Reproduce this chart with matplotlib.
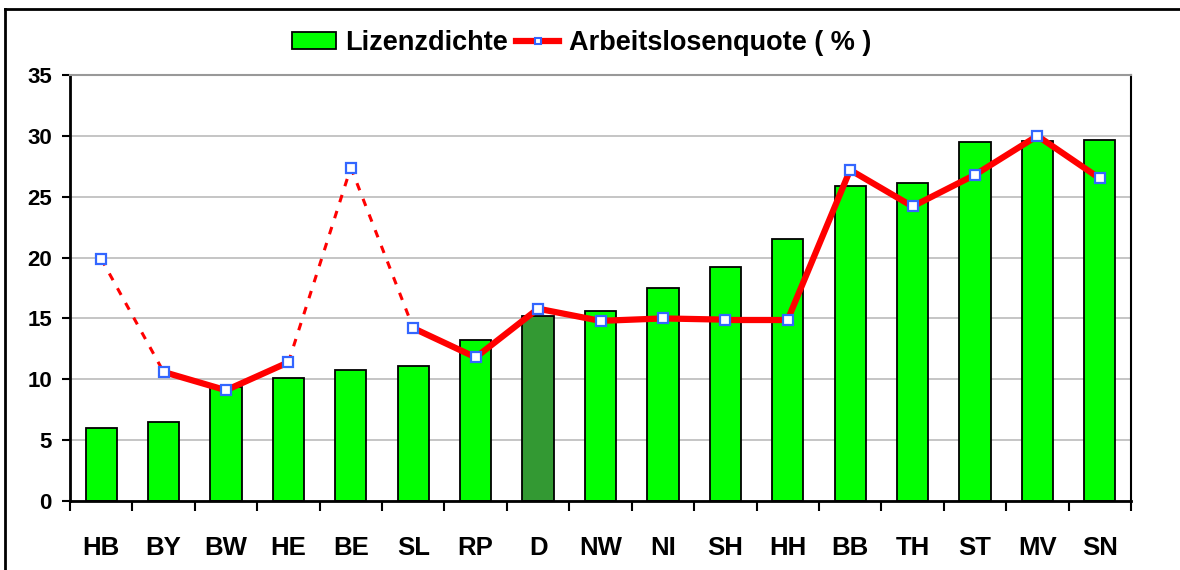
import numpy as np
import matplotlib.pyplot as plt
from matplotlib.lines import Line2D
from matplotlib.patches import Patch

plt.rcParams['font.family'] = ['Liberation Sans', 'DejaVu Sans']
plt.rcParams['font.weight'] = 'bold'

laender = ["HB", "BY", "BW", "HE", "BE", "SL", "RP", "D", "NW", "NI",
           "SH", "HH", "BB", "TH", "ST", "MV", "SN"]
lizenzdichte = [6.0, 6.5, 9.4, 10.1, 10.8, 11.1, 13.2, 15.2, 15.6, 17.5,
                19.2, 21.5, 25.9, 26.1, 29.5, 29.6, 29.7]
arbeitslosenquote = [19.9, 10.6, 9.1, 11.4, 27.4, 14.2, 11.8, 15.8, 14.8, 15.0,
                     14.9, 14.9, 27.2, 24.2, 26.8, 30.0, 26.5]
# segments (start index) drawn dotted in the original
dotted = [0, 3, 4]
highlight = "D"

x = np.arange(len(laender))

fig = plt.figure(figsize=(11.8, 5.7), dpi=100)
ax = fig.add_axes([70 / 1180, 69 / 570, 1061 / 1180, 426 / 570])

colors = ["#339933" if l == highlight else "#00ff00" for l in laender]
ax.bar(x, lizenzdichte, width=0.5, color=colors, edgecolor="black", linewidth=1.3, zorder=2)

for i in range(len(x) - 1):
    if i in dotted:
        ax.plot(x[i:i + 2], arbeitslosenquote[i:i + 2], color="red", lw=2.2,
                ls=(0, (2.5, 3)), zorder=3, solid_capstyle="butt")
    else:
        ax.plot(x[i:i + 2], arbeitslosenquote[i:i + 2], color="red", lw=4.5,
                zorder=3, solid_capstyle="round")
ax.plot(x, arbeitslosenquote, ls="none", marker="s", ms=6.5, mfc="white",
        mec="#3366ff", mew=1.6, zorder=4)

ax.set_xlim(-0.5, len(x) - 0.5)
ax.set_ylim(0, 35)
ax.set_yticks(range(0, 36, 5))
ax.set_yticklabels([str(v) for v in range(0, 36, 5)], fontsize=16, fontweight="bold")
ax.yaxis.grid(True, color="#bbbbbb", lw=1.2, zorder=0)
ax.set_axisbelow(True)

ax.set_xticks(np.arange(-0.5, len(x), 1.0))
ax.set_xticklabels([])
ax.set_xticks(x, minor=True)
ax.set_xticklabels(laender, minor=True, fontsize=18.5, fontweight="bold")
ax.tick_params(axis="x", which="major", length=7, width=1.5, direction="out")
ax.tick_params(axis="x", which="minor", length=0, pad=25)
ax.tick_params(axis="y", length=6, width=1.5, pad=7)

for s in ["left", "bottom"]:
    ax.spines[s].set_linewidth(2)
ax.spines["top"].set_color("#999999")
ax.spines["top"].set_linewidth(1.5)
ax.spines["right"].set_linewidth(1.5)

handles = [
    Patch(facecolor="#00ff00", edgecolor="black", linewidth=1.3),
    Line2D([0], [0], color="red", lw=4.5, marker="s", ms=5, mfc="white", mec="#3366ff", mew=1.5),
]
fig.legend(handles, ["Lizenzdichte", "Arbeitslosenquote ( % )"], ncol=2,
           loc="center", bbox_to_anchor=(0.493, 0.925), frameon=False,
           prop={"size": 19.5, "weight": "bold"}, handlelength=1.6, handleheight=0.6,
           handletextpad=0.35, columnspacing=0.3)

# outer chart frame
fig.add_artist(Line2D([5 / 1180, 5 / 1180], [0, 1 - 9 / 570], color="black", lw=2,
                      transform=fig.transFigure))
fig.add_artist(Line2D([5 / 1180, 1], [1 - 9 / 570, 1 - 9 / 570], color="black", lw=2,
                      transform=fig.transFigure))

fig.savefig("out.png", dpi=100)
